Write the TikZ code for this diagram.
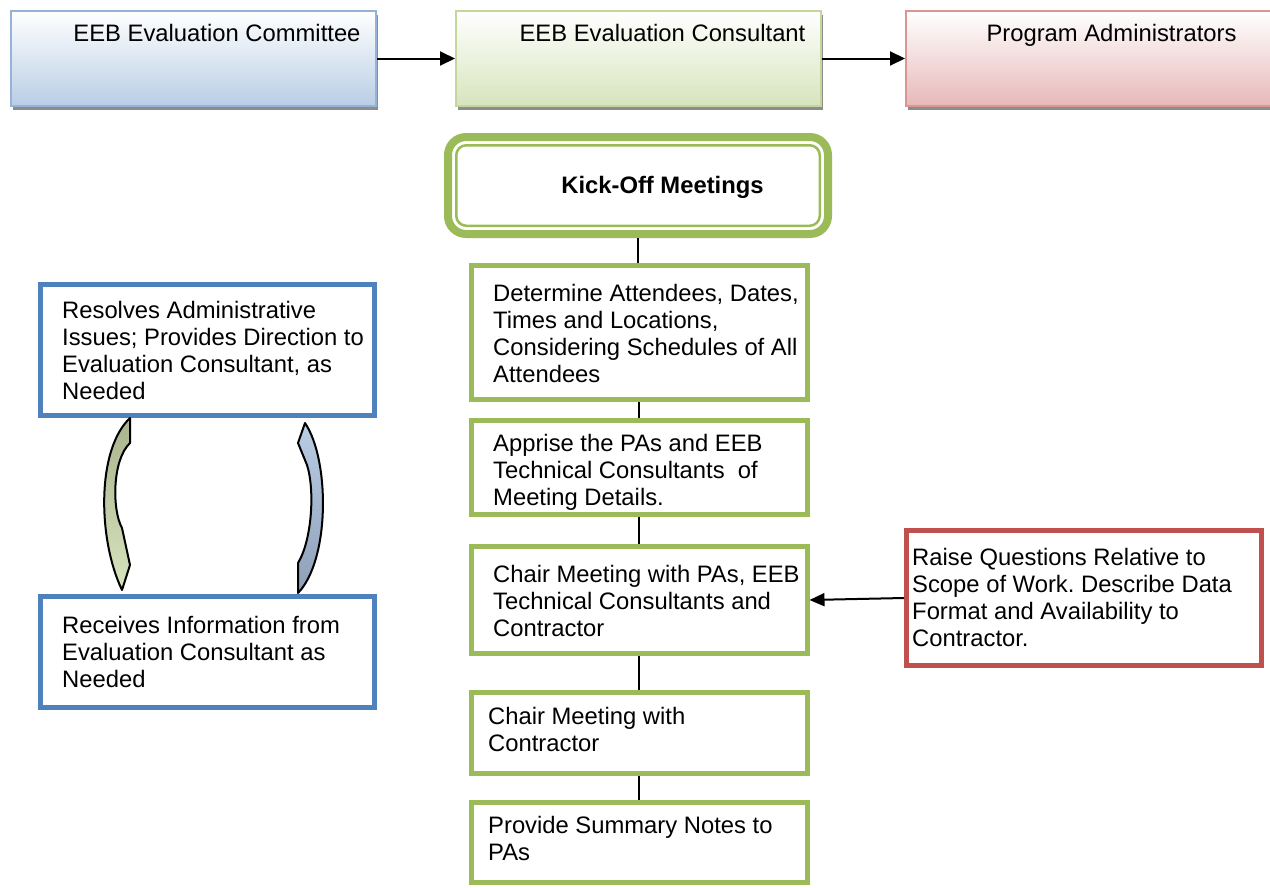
\documentclass[tikz,border=0pt]{standalone}
\usepackage{fontspec}
\setmainfont{Liberation Sans}
\usetikzlibrary{arrows.meta,shadows}
\frenchspacing

\definecolor{hdblue}{HTML}{B9CDE5}
\definecolor{hdblueline}{HTML}{95B3D7}
\definecolor{hdgreen}{HTML}{D7E4BD}
\definecolor{hdgreenline}{HTML}{C3D69B}
\definecolor{hdred}{HTML}{E6B9B8}
\definecolor{hdredline}{HTML}{D99694}
\definecolor{kgreen}{HTML}{9BBB59}
\definecolor{bblue}{HTML}{4F81BD}
\definecolor{bred}{HTML}{C0504D}
\definecolor{arrolive}{HTML}{A9B48F}
\definecolor{arrslate}{HTML}{8EA0B8}

\begin{document}
\begin{tikzpicture}[x=1pt, y=-1pt,
	font=\fontsize{23.8}{27}\selectfont,
	head/.style={line width=2pt, minimum width=365pt, minimum height=95pt, inner sep=0pt,
		drop shadow={shadow xshift=2pt, shadow yshift=-3.5pt, fill=black!45, opacity=1}},
	gbox/.style={draw=kgreen, line width=5pt, fill=white, minimum width=336pt, inner sep=0pt},
	bbox/.style={draw=bblue, line width=5pt, minimum width=334pt, inner sep=0pt},
	txt/.style={anchor=north west, align=left, inner sep=0pt},
	arr/.style={-{Triangle[length=15pt, width=14pt]}, line width=2pt},
	curl/.style={draw=black, line width=2pt, line join=round}]
	\useasboundingbox (0,0) rectangle (1270,887);

	% header boxes
	\node[head, draw=hdblueline, top color=white, bottom color=hdblue] (committee) at (193.5,58.5) {};
	\node[head, draw=hdgreenline, top color=white, bottom color=hdgreen] (consultant) at (638.5,58.5) {};
	\node[head, draw=hdredline, top color=white, bottom color=hdred] (admins) at (1088.5,58.5) {};
	\node[anchor=base, inner sep=0pt] (committee-t) at (217,41.5) {EEB Evaluation Committee};
	\node[anchor=base, inner sep=0pt] (consultant-t) at (662.5,41.5) {EEB Evaluation Consultant};
	\node[anchor=base, inner sep=0pt] (admins-t) at (1111.5,41.5) {Program Administrators};
	\draw[arr] (committee) -- (consultant);
	\draw[arr] (consultant) -- (admins);

	% kick-off
	\node[draw=kgreen, line width=8pt, rounded corners=18pt, minimum width=380pt, minimum height=97pt] (kick) at (638,185.5) {};
	\draw[kgreen, line width=2.5pt, rounded corners=10pt] ([xshift=12.25pt, yshift=-12.25pt]kick.north west) rectangle ([xshift=-12.25pt, yshift=12.25pt]kick.south east);
	\node[anchor=base, inner sep=0pt, font=\fontsize{23.8}{27}\selectfont\bfseries] (kick-t) at (662.5,193.5) {Kick-Off Meetings};

	% steps
	\node[gbox, minimum height=134pt] (attend) at (639,332.5) {};
	\node[gbox, minimum height=94pt] (apprise) at (639,467.5) {};
	\node[gbox, minimum height=107pt] (chairpa) at (639,600) {};
	\node[gbox, minimum height=81pt] (chaircon) at (639,733) {};
	\node[gbox, minimum height=80pt] (notes) at (639,842.5) {};
	\foreach \a/\b in {kick/attend, attend/apprise, apprise/chairpa, chairpa/chaircon, chaircon/notes}
		\draw[line width=1.8pt] (\a.south) -- (\a.south |- \b.north);
	\node[txt] (attend-t) at (493,284.5) {Determine Attendees, Dates,\\Times and Locations,\\Considering Schedules of All\\Attendees};
	\node[txt] (apprise-t) at (493,434.5) {Apprise the PAs and EEB\\Technical Consultants\ \ of\\Meeting Details.};
	\node[txt] (chairpa-t) at (493,565.5) {Chair Meeting with PAs, EEB\\Technical Consultants and\\Contractor};
	\node[txt] (chaircon-t) at (488,707.5) {Chair Meeting with\\Contractor};
	\node[txt] (notes-t) at (488,816.5) {Provide Summary Notes to\\PAs};

	% program administrators side
	\node[draw=bred, line width=5pt, minimum width=355pt, minimum height=135pt] (raise) at (1084,598) {};
	\node[txt] (raise-t) at (912,548.5) {Raise Questions Relative to\\Scope of Work. Describe Data\\Format and Availability to\\Contractor.};
	\draw[-{Triangle[length=15pt, width=13pt]}, line width=2pt] (raise.west) -- (chairpa.east);

	% committee side
	\node[bbox, minimum height=131pt] (resolve) at (207.5,350) {};
	\node[bbox, minimum height=111pt] (receive) at (207.5,652) {};
	\node[txt] (resolve-t) at (62,301.5) {Resolves Administrative\\Issues; Provides Direction to\\Evaluation Consultant, as\\Needed};
	\node[txt] (receive-t) at (62,616.5) {Receives Information from\\Evaluation Consultant as\\Needed};

	% curved arrows
	\draw[curl, top color=arrolive, bottom color=hdgreen] (130,418) .. controls (96,450) and (98,540) .. (122,590) -- (130,565) -- (122,528) .. controls (112,510) and (112,460) .. (130,443) -- cycle;
	\draw[curl, top color=hdblue, bottom color=arrslate] (305,423) -- (298,443) -- (307,465) .. controls (315,490) and (312,540) .. (298,563) -- (298,593) .. controls (330,560) and (330,460) .. (305,423) -- cycle;
\end{tikzpicture}
\end{document}
